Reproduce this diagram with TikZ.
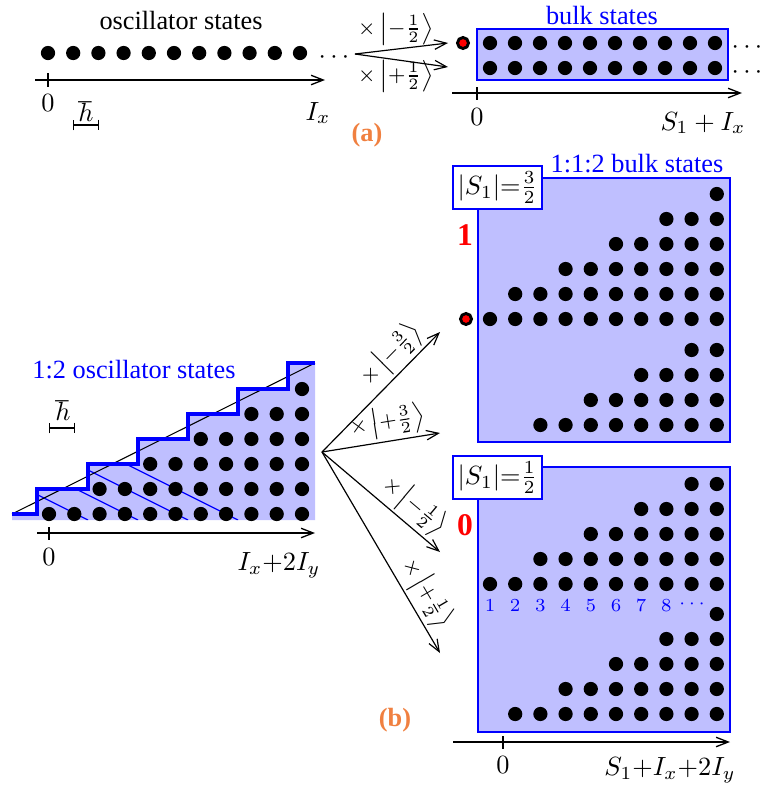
\documentclass[tikz,border=0pt]{standalone}
\usepackage{fontspec}
\setmainfont{Liberation Serif}
\usetikzlibrary{arrows.meta}
\definecolor{bfill}{RGB}{191,191,255}
\definecolor{aorange}{RGB}{240,128,64}
\begin{document}
\begin{tikzpicture}[x=0.38pt,y=-0.38pt,
  axis/.style={line width=0.5pt,-{Straight Barb[length=4.6pt,width=3.6pt]}},
  trans/.style={line width=0.45pt,-{Straight Barb[length=4.6pt,width=3.6pt]}},
  tick/.style={line width=0.5pt},
  hbar/.style={line width=0.5pt,{Bar[width=4pt]}-{Bar[width=4pt]}},
  lbl/.style={inner sep=1pt,font=\footnotesize},
  panel/.style={draw=blue,fill=bfill,line width=0.55pt},
  sbox/.style={draw=blue,fill=white,line width=0.55pt,inner sep=1pt,minimum width=33.8pt,minimum height=16.3pt},
  reddot/.style={fill=red,draw=black,line width=1.1pt},
  panlab/.style={text=aorange,font=\bfseries},
  redlab/.style={text=red,font=\large\bfseries},
  num/.style={text=blue,font=\scriptsize,inner sep=0pt}]
\useasboundingbox (0,0) rectangle (761,787);
% ---------------- (a) left ----------------
\node (osc) at (181,20) {oscillator states};
\foreach \i in {0,...,10} \fill (48+25.2*\i,53) circle[radius=2.7pt];
\node (dotsA) at (334,58) {$\cdots$};
\coordinate (axAs) at (35,80); \coordinate (axAe) at (325,80);
\draw[axis] (axAs) -- (axAe);
\draw[tick] (48,73) -- (48,87);
\node (zeroA) at (48,103) {$0$};
\node (hbarA) at (86,112) {$\hbar$};
\coordinate (hbA1) at (73,125); \coordinate (hbA2) at (99,125);
\draw[hbar] (hbA1) -- (hbA2);
\node (IxA) at (318,113) {$I_x$};
\node[panlab] (labA) at (367,135) {(a)};
% arrows (a)
\coordinate (asrc) at (355,54);
\coordinate (aup) at (448,43);
\coordinate (adn) at (448,67);
\draw[trans] (asrc) -- (aup);
\draw[trans] (asrc) -- (adn);
\node[lbl] (lamA) at (396,29) {${\times}\left|-\frac{1}{2}\right\rangle$};
\node[lbl] (lapA) at (396,76) {${\times}\left|+\frac{1}{2}\right\rangle$};
% ---------------- (a) right ----------------
\filldraw[reddot] (463,43) circle[radius=2.1pt];
\draw[panel] (477,29) rectangle (728,80);
\node[text=blue] (bulk) at (602,15) {bulk states};
\foreach \i in {0,...,9}{
  \fill (490+25*\i,43) circle[radius=2.7pt];
  \fill (490+25*\i,68) circle[radius=2.7pt];}
\node (dotsB) at (747,48) {$\cdots$};
\node (dotsC) at (747,73) {$\cdots$};
\draw[axis] (452,93) -- (742,93);
\draw[tick] (477,87) -- (477,100);
\node (zeroB) at (477,117) {$0$};
\node (SIx) at (703,123) {$S_1 + I_x$};
% ---------------- (b) left ----------------
\fill[bfill] (12,520) -- (12,514) -- (37,514) -- (37,489) -- (88,489) -- (88,464) -- (138,464) -- (138,439) -- (188,439) -- (188,414) -- (238,414) -- (238,389) -- (288,389) -- (288,363) -- (315,363) -- (315,520) -- cycle;
\begin{scope}
\clip (12,520) -- (12,514) -- (37,514) -- (37,489) -- (88,489) -- (88,464) -- (138,464) -- (138,439) -- (188,439) -- (188,414) -- (238,414) -- (238,389) -- (288,389) -- (288,363) -- (315,363) -- (315,520) -- cycle;
\foreach \xb in {88,138,188,238} \draw[blue,line width=0.45pt] (\xb,520) -- (\xb-200,420);
\end{scope}
\draw[line width=0.4pt] (12,514) -- (315,363);
\draw[blue,line width=1.65pt] (12,514) -- (37,514) -- (37,489) -- (88,489) -- (88,464) -- (138,464) -- (138,439) -- (188,439) -- (188,414) -- (238,414) -- (238,389) -- (288,389) -- (288,363) -- (315,363);
\foreach \k in {0,...,5}{
  \pgfmathtruncatemacro\js{2*\k}
  \foreach \j in {\js,...,10} \fill (49+25.3*\j,514-25*\k) circle[radius=2.7pt];}
\node[text=blue] (osc12) at (134,370) {1:2 oscillator states};
\node (hbarB) at (63,411) {$\hbar$};
\coordinate (hbB1) at (49,428); \coordinate (hbB2) at (75,428);
\draw[hbar] (hbB1) -- (hbB2);
\draw[axis] (37,533) -- (315,533);
\draw[tick] (49,527) -- (49,540);
\node (zeroC) at (49,557) {$0$};
\node (IxIy) at (279,565) {$I_x{+}2I_y$};
% arrows (b)
\coordinate (bsrc) at (322,452);
\coordinate (b1) at (440,332);
\coordinate (b2) at (440,433);
\coordinate (b3) at (440,552);
\coordinate (b4) at (440,653);
\draw[trans] (bsrc) -- node[lbl,sloped,above,pos=0.7] (lb1) {${\times}\left|-\frac{3}{2}\right\rangle$} (b1);
\draw[trans] (bsrc) -- node[lbl,sloped,above,pos=0.58] (lb2) {${\times}\left|+\frac{3}{2}\right\rangle$} (b2);
\draw[trans] (bsrc) -- node[lbl,sloped,above,pos=0.68] (lb3) {${\times}\left|-\frac{1}{2}\right\rangle$} (b3);
\draw[trans] (bsrc) -- node[lbl,sloped,above,pos=0.75] (lb4) {${\times}\left|+\frac{1}{2}\right\rangle$} (b4);
\node[panlab] (labB) at (395,720) {(b)};
% ---------------- (b) right upper ----------------
\draw[panel] (478,178) rectangle (730,442);
\node[sbox] (s32) at (497.5,187.5) {$|S_1|{=}\frac{3}{2}$};
\node[text=blue] (bulk112) at (637,164) {1:1:2 bulk states};
\node[redlab] (one) at (465,235) {1};
\filldraw[reddot] (466,319) circle[radius=2.1pt];
\foreach \k/\s in {0/1,1/2,2/4,3/6,4/8,5/10}
  \foreach \c in {\s,...,10} \fill (490+25.2*\c-25.2,319-25*\k) circle[radius=2.7pt];
\foreach \m/\s in {0/9,1/7,2/5,3/3}
  \foreach \c in {\s,...,10} \fill (490+25.2*\c-25.2,350+25*\m) circle[radius=2.7pt];
% ---------------- (b) right lower ----------------
\draw[panel] (478,467) rectangle (730,732);
\node[sbox] (s12) at (497.5,477.5) {$|S_1|{=}\frac{1}{2}$};
\node[redlab] (zero) at (465,525) {0};
\foreach \k/\s in {0/1,1/3,2/5,3/7,4/9}
  \foreach \c in {\s,...,10} \fill (490+25.2*\c-25.2,584-25*\k) circle[radius=2.7pt];
\foreach \m/\s in {0/10,1/8,2/6,3/4,4/2}
  \foreach \c in {\s,...,10} \fill (490+25.2*\c-25.2,614+25*\m) circle[radius=2.7pt];
\foreach \c in {1,...,8} \node[num] (n\c) at (490+25.2*\c-25.2,606) {$\c$};
\node[num] (ndots) at (692,604) {$\cdots$};
\draw[axis] (453,742) -- (730,742);
\draw[tick] (503,736) -- (503,749);
\node (zeroD) at (503,765) {$0$};
\node (SIxIy) at (670,770) {$S_1{+}I_x{+}2I_y$};
\end{tikzpicture}
\end{document}
